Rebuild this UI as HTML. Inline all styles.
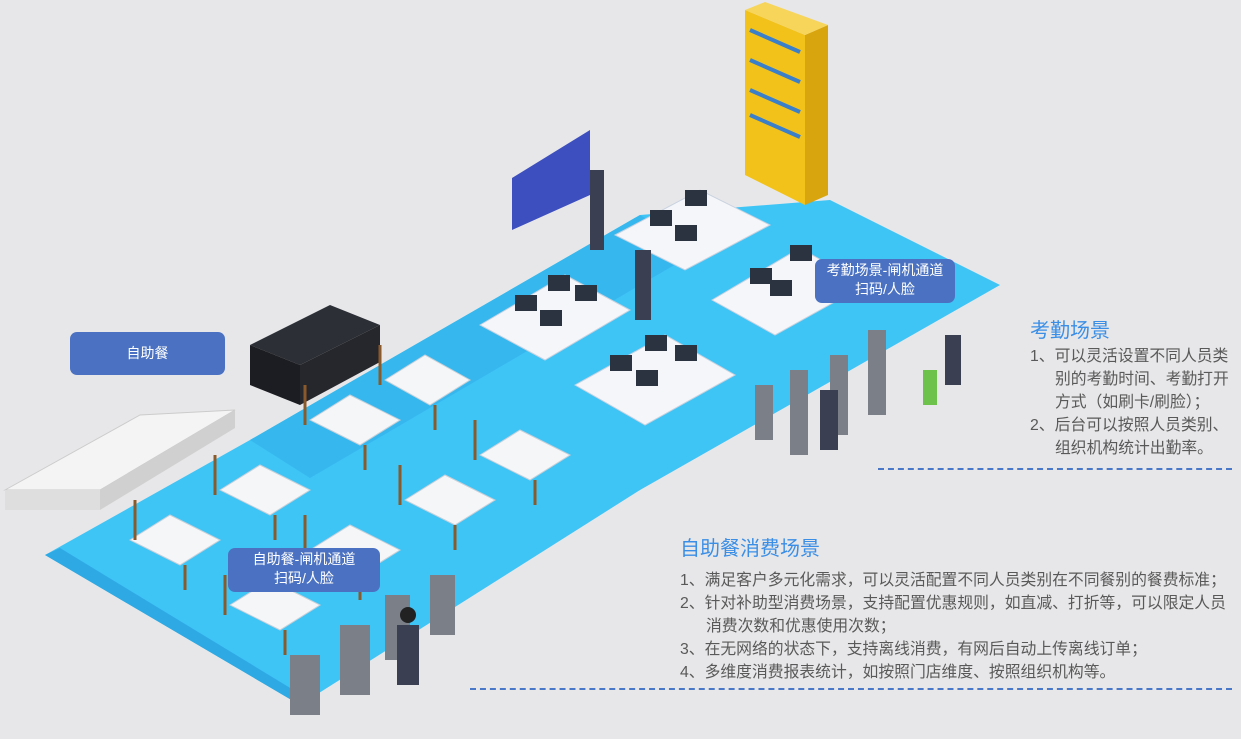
<!DOCTYPE html>
<html><head><meta charset="utf-8"><style>
body{margin:0;width:1241px;height:739px;overflow:hidden;background:#e7e7e9;font-family:"Liberation Sans","Noto Sans CJK SC",sans-serif;position:relative}
.t{position:absolute;color:#595959;font-size:15.8px;white-space:nowrap;line-height:20px}
.h{position:absolute;color:#3a8ee6;font-size:20px}
.lab{position:absolute;background:#4b72c2;color:#fff;border-radius:7px;text-align:center;font-size:14px;line-height:19px}
.dash{position:absolute;height:0;border-top:2px dashed #4a78c8}
</style></head><body>
<svg width="1241" height="739" style="position:absolute;left:0;top:0">
<polygon points="45,555 250,440 640,215 830,200 1000,285 640,490 300,705" fill="#3fc4f6"/>
<polygon points="250,440 640,215 700,250 310,478" fill="#36b8ee"/>
<polygon points="45,555 60,548 310,700 300,705" fill="#2ea9e4"/>
<polygon points="745,10 805,35 805,205 745,175" fill="#f2c21b"/>
<polygon points="805,35 828,25 828,195 805,205" fill="#d9a50f"/>
<polygon points="745,10 765,2 828,25 805,35" fill="#f7d55a"/>
<g stroke="#3a7fc9" stroke-width="4">
<line x1="750" y1="30" x2="800" y2="52"/><line x1="750" y1="60" x2="800" y2="82"/><line x1="750" y1="90" x2="800" y2="112"/><line x1="750" y1="115" x2="800" y2="137"/></g>
<polygon points="512,178 590,130 590,195 512,230" fill="#3d4fbf"/>
<g fill="#f4f6fa" stroke="#c9d2df">
<polygon points="615,235 700,190 770,225 685,270"/>
<polygon points="480,325 565,275 630,310 545,360"/>
<polygon points="575,385 665,335 735,375 645,425"/>
<polygon points="712,300 800,248 865,285 775,335"/>
</g>
<g fill="#2b3340">
<rect x="650" y="210" width="22" height="16"/><rect x="685" y="190" width="22" height="16"/><rect x="675" y="225" width="22" height="16"/>
<rect x="515" y="295" width="22" height="16"/><rect x="548" y="275" width="22" height="16"/><rect x="575" y="285" width="22" height="16"/><rect x="540" y="310" width="22" height="16"/>
<rect x="610" y="355" width="22" height="16"/><rect x="645" y="335" width="22" height="16"/><rect x="675" y="345" width="22" height="16"/><rect x="636" y="370" width="22" height="16"/>
<rect x="750" y="268" width="22" height="16"/><rect x="790" y="245" width="22" height="16"/><rect x="770" y="280" width="22" height="16"/>
</g>
<polygon points="250,345 330,305 380,325 300,365" fill="#2d2f36"/>
<polygon points="250,345 300,365 300,405 250,385" fill="#1c1d22"/>
<polygon points="300,365 380,325 380,362 300,405" fill="#26272d"/>
<polygon points="5,490 140,415 235,410 100,490" fill="#f4f4f4" stroke="#ccc"/>
<polygon points="5,490 100,490 100,510 5,510" fill="#dedede"/>
<polygon points="100,490 235,410 235,428 100,510" fill="#d0d0d0"/>
<g fill="#f4f6f8" stroke="#c9d0d8">
<polygon points="130,540 170,515 220,540 180,565"/>
<polygon points="220,490 260,465 310,490 270,515"/>
<polygon points="310,420 350,395 400,420 360,445"/>
<polygon points="385,380 425,355 470,380 430,405"/>
<polygon points="230,605 270,580 320,605 280,630"/>
<polygon points="310,550 350,525 400,550 360,575"/>
<polygon points="405,500 445,475 495,500 455,525"/>
<polygon points="480,455 520,430 570,455 530,480"/>
</g>
<g stroke="#8a5a2b" stroke-width="3" fill="none">
<path d="M135,500v40M215,455v40M305,385v40M380,345v40M225,575v40M305,515v40M400,465v40M475,420v40M185,565v25M275,515v25M365,445v25M435,405v25M285,630v25M360,575v25M455,525v25M535,480v25"/>
</g>
<g fill="#7a7f88">
<rect x="755" y="385" width="18" height="55"/><rect x="790" y="370" width="18" height="85"/><rect x="830" y="355" width="18" height="80"/><rect x="868" y="330" width="18" height="85"/>
<rect x="290" y="655" width="30" height="60"/><rect x="340" y="625" width="30" height="70"/><rect x="385" y="595" width="25" height="65"/><rect x="430" y="575" width="25" height="60"/>
</g>
<g fill="#3a3f52">
<rect x="397" y="625" width="22" height="60"/><rect x="820" y="390" width="18" height="60"/><rect x="945" y="335" width="16" height="50"/><rect x="635" y="250" width="16" height="70"/><rect x="590" y="170" width="14" height="80"/>
</g>
<circle cx="408" cy="615" r="8" fill="#222"/>
<rect x="923" y="370" width="14" height="35" fill="#6cc24a"/>
</svg>
<div class="lab" style="left:70px;top:332px;width:155px;height:43px;line-height:43px">自助餐</div>
<div class="lab" style="left:815px;top:259px;width:140px;height:42px;padding-top:2px">考勤场景-闸机通道<br>扫码/人脸</div>
<div class="lab" style="left:228px;top:548px;width:152px;height:42px;padding-top:2px">自助餐-闸机通道<br>扫码/人脸</div>
<div class="h" style="left:1030px;top:314px">考勤场景</div>
<div class="t" style="left:1030px;top:347px">1、可以灵活设置不同人员类</div>
<div class="t" style="left:1055px;top:370px">别的考勤时间、考勤打开</div>
<div class="t" style="left:1055px;top:393px">方式（如刷卡/刷脸）；</div>
<div class="t" style="left:1030px;top:416px">2、后台可以按照人员类别、</div>
<div class="t" style="left:1055px;top:439px">组织机构统计出勤率。</div>
<div class="dash" style="left:878px;top:468px;width:354px"></div>
<div class="h" style="left:680px;top:532px">自助餐消费场景</div>
<div class="t" style="left:680px;top:571px">1、满足客户多元化需求，可以灵活配置不同人员类别在不同餐别的餐费标准；</div>
<div class="t" style="left:680px;top:594px">2、针对补助型消费场景，支持配置优惠规则，如直减、打折等，可以限定人员</div>
<div class="t" style="left:706px;top:617px">消费次数和优惠使用次数；</div>
<div class="t" style="left:680px;top:640px">3、在无网络的状态下，支持离线消费，有网后自动上传离线订单；</div>
<div class="t" style="left:680px;top:663px">4、多维度消费报表统计，如按照门店维度、按照组织机构等。</div>
<div class="dash" style="left:470px;top:688px;width:762px"></div>
</body></html>
